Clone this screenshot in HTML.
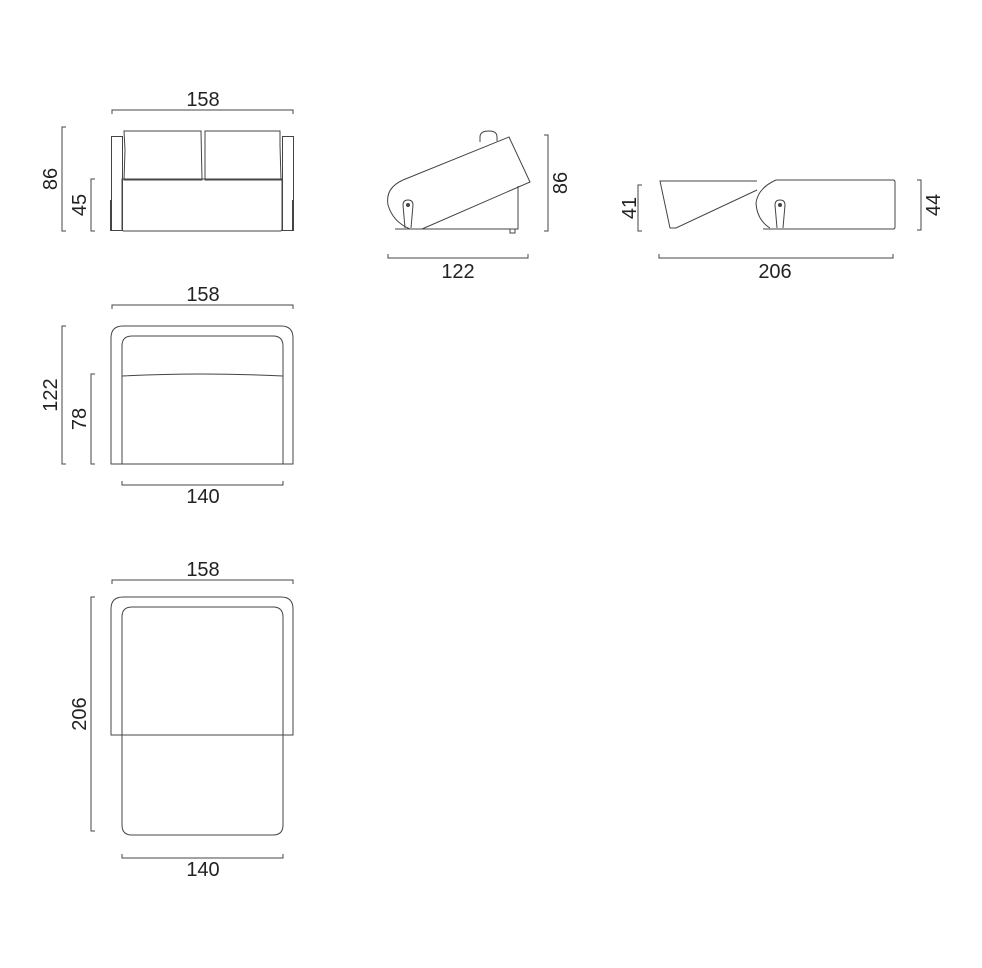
<!DOCTYPE html>
<html><head><meta charset="utf-8"><style>
html,body{margin:0;padding:0;background:#fff}
svg{display:block}
text{font-family:"Liberation Sans",sans-serif;font-size:20px;fill:#222}
</style></head><body>
<svg width="982" height="968" viewBox="0 0 982 968" xmlns="http://www.w3.org/2000/svg">
<g fill="none" stroke="#444" stroke-width="1">
<path d="M112 114V110H293V114"/>
<path d="M66 127H62V231H66"/>
<path d="M95 179H91V231H95"/>
<rect x="111.5" y="136.5" width="11" height="94"/>
<rect x="282.5" y="136.5" width="11" height="94"/>
<path d="M122 179H282V229Q282 231 280 231H124Q122 231 122 229Z"/>
<path d="M124 131H201L202 180H124L125 150Z"/>
<path d="M205 131H280L280 145L281 180H205Z"/>
<path d="M111 200V231M293 200V231" stroke-width="2"/>

<path d="M480 142V137Q480 131 489 131Q497 131 497 137V141"/>
<path d="M403 180L509 137L530 182L422 229"/>
<path d="M403 180Q385 188 388 205Q393 222 410 229"/>
<path d="M518 186V229H395"/>
<path d="M510 229V233H515V229"/>
<path d="M405 228L403 205Q403 200 408 200Q413 200 413 205L411 228"/>
<circle cx="408" cy="205" r="1.5" fill="#444"/>
<path d="M544 135H548V231H544"/>
<path d="M388 254V258H528V254"/>

<path d="M757 181H660L670 228H676L757 190"/>
<path d="M776 180H893Q895 180 895 182V227Q895 229 893 229H768"/>
<path d="M776 180Q758 188 756 203Q757 220 770 228"/>
<path d="M777 228L775 205Q775 200 780 200Q785 200 785 205L783 228"/>
<circle cx="780" cy="205" r="1.5" fill="#444"/>
<path d="M763 229H794"/>
<path d="M642 185H638V231H642"/>
<path d="M917 180H921V230H917"/>
<path d="M659 254V258H893V254"/>

<path d="M112 309V305H293V309"/>
<path d="M111 464V338Q111 326 123 326H281Q293 326 293 338V464H111Z"/>
<path d="M122 464V346Q122 336 132 336H273Q283 336 283 346V464"/>
<path d="M122 376Q200 372 283 376"/>
<path d="M66 326H62V464H66"/>
<path d="M95 374H91V464H95"/>
<path d="M122 481V485H283V481"/>

<path d="M112 584V580H293V584"/>
<path d="M111 735V609Q111 597 123 597H281Q293 597 293 609V735H111Z"/>
<path d="M122 617Q122 607 132 607H273Q283 607 283 617V825Q283 835 273 835H132Q122 835 122 825Z"/>
<path d="M95 597H91V831H95"/>
<path d="M122 854V858H283V854"/>
</g>
<text x="203" y="106" text-anchor="middle">158</text>
<text transform="translate(57,179) rotate(-90)" text-anchor="middle">86</text>
<text transform="translate(86,205) rotate(-90)" text-anchor="middle">45</text>
<text transform="translate(567,183) rotate(-90)" text-anchor="middle">86</text>
<text x="458" y="278" text-anchor="middle">122</text>
<text transform="translate(636,208) rotate(-90)" text-anchor="middle">41</text>
<text transform="translate(940,205) rotate(-90)" text-anchor="middle">44</text>
<text x="775" y="278" text-anchor="middle">206</text>
<text x="203" y="301" text-anchor="middle">158</text>
<text transform="translate(57,395) rotate(-90)" text-anchor="middle">122</text>
<text transform="translate(86,419) rotate(-90)" text-anchor="middle">78</text>
<text x="203" y="503" text-anchor="middle">140</text>
<text x="203" y="576" text-anchor="middle">158</text>
<text transform="translate(86,714) rotate(-90)" text-anchor="middle">206</text>
<text x="203" y="876" text-anchor="middle">140</text>
</svg>
</body></html>
